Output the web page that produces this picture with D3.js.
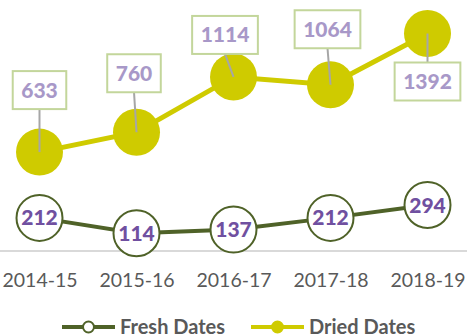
<!DOCTYPE html>
<html>
<head>
<meta charset="utf-8">
<script src="https://cdn.jsdelivr.net/npm/d3@7/dist/d3.min.js"></script>
<style>
  html, body { margin: 0; padding: 0; background: #fff; }
  svg { display: block; }
  text { font-family: Lato, "Open Sans", sans-serif; }
</style>
</head>
<body>
<script>
// Date production by season
const seasons = ["2014-15", "2015-16", "2016-17", "2017-18", "2018-19"];
const freshDates = [212, 114, 137, 212, 294];
const driedDates = [633, 760, 1114, 1064, 1392];
const seriesNames = ["Fresh Dates", "Dried Dates"];

const W = 467, H = 335;
const C = {
  fresh: "#4f6228",
  dried: "#cfcb00",
  freshText: "#7050a0",
  driedText: "#a898c8",
  box: "#c3d69b",
  leader: "#a6a6a6",
  axis: "#d9d9d9",
  tick: "#595959"
};

const svg = d3.select("body").append("svg").attr("width", W).attr("height", H);

const x = d3.scalePoint().domain(seasons).range([39.5, 427.5]);
const y = d3.scaleLinear().domain([0, 1600]).range([251, 1]);

// category axis
const axis = d3.axisBottom(x).tickSize(0).tickSizeOuter(0);
const gx = svg.append("g").attr("transform", `translate(0,${y(0)})`).call(axis);
gx.select(".domain").attr("d", `M${-9},0H${476}`).attr("stroke", C.axis).attr("stroke-width", 2);
gx.selectAll(".tick text")
  .attr("y", 36).attr("dy", null)
  .attr("fill", C.tick)
  .style("font-size", "19.5px")
  .style("font-family", "Lato, sans-serif");

const line = d3.line().x((d, i) => x(seasons[i])).y(d => y(d));

// series lines
svg.append("path").datum(freshDates).attr("d", line)
  .attr("fill", "none").attr("stroke", C.fresh).attr("stroke-width", 4);
svg.append("path").datum(driedDates).attr("d", line)
  .attr("fill", "none").attr("stroke", C.dried).attr("stroke-width", 5);

// dried markers
svg.append("g").selectAll("circle").data(driedDates).join("circle")
  .attr("cx", (d, i) => x(seasons[i])).attr("cy", d => y(d))
  .attr("r", 23.5).attr("fill", C.dried);

// dried callout offsets (box centre relative to the marker)
const calloutOffset = [[0, -62], [-2.5, -59], [-8.5, -42], [-3, -55.5], [0, 48]];

const callouts = svg.append("g");
driedDates.forEach((v, i) => {
  const px = x(seasons[i]), py = y(v);
  const cx = px + calloutOffset[i][0], cy = py + calloutOffset[i][1];
  const g = callouts.append("g");
  const t = g.append("text")
    .attr("x", cx).attr("y", cy).attr("dy", "0.36em")
    .attr("text-anchor", "middle")
    .attr("fill", C.driedText)
    .style("font-size", "21px").style("font-weight", "900")
    .text(v);
  const bw = t.node().getBBox().width + 17, bh = 38;
  const edgeY = calloutOffset[i][1] < 0 ? cy + bh / 2 : cy - bh / 2;
  g.insert("line", "text")
    .attr("x1", cx).attr("y1", edgeY).attr("x2", px).attr("y2", py)
    .attr("stroke", C.leader).attr("stroke-width", 2);
  g.insert("rect", "text")
    .attr("x", cx - bw / 2).attr("y", cy - bh / 2)
    .attr("width", bw).attr("height", bh)
    .attr("fill", "#fff").attr("stroke", C.box).attr("stroke-width", 2);
});

// fresh markers with values inside
const fg = svg.append("g").selectAll("g").data(freshDates).join("g")
  .attr("transform", (d, i) => `translate(${x(seasons[i])},${y(d)})`);
fg.append("circle").attr("r", 23).attr("fill", "#fff")
  .attr("stroke", C.fresh).attr("stroke-width", 2);
fg.append("text").attr("text-anchor", "middle").attr("dy", "0.36em")
  .attr("fill", C.freshText)
  .style("font-size", "21px").style("font-weight", "900")
  .text(d => d);

// legend
const legend = [
  { name: seriesNames[0], color: C.fresh, fill: "#fff", x0: 62 },
  { name: seriesNames[1], color: C.dried, fill: C.dried, x0: 251 }
];
const lg = svg.append("g");
legend.forEach(l => {
  const ly = 327;
  lg.append("line").attr("x1", l.x0).attr("x2", l.x0 + 53).attr("y1", ly).attr("y2", ly)
    .attr("stroke", l.color).attr("stroke-width", 4);
  lg.append("circle").attr("cx", l.x0 + 26.5).attr("cy", ly).attr("r", 5.5)
    .attr("fill", l.fill).attr("stroke", l.color).attr("stroke-width", 2);
  lg.append("text").attr("x", l.x0 + 58).attr("y", 334)
    .attr("fill", C.tick)
    .style("font-size", "20px").style("font-weight", "bold")
    .text(l.name);
});
</script>
</body>
</html>
